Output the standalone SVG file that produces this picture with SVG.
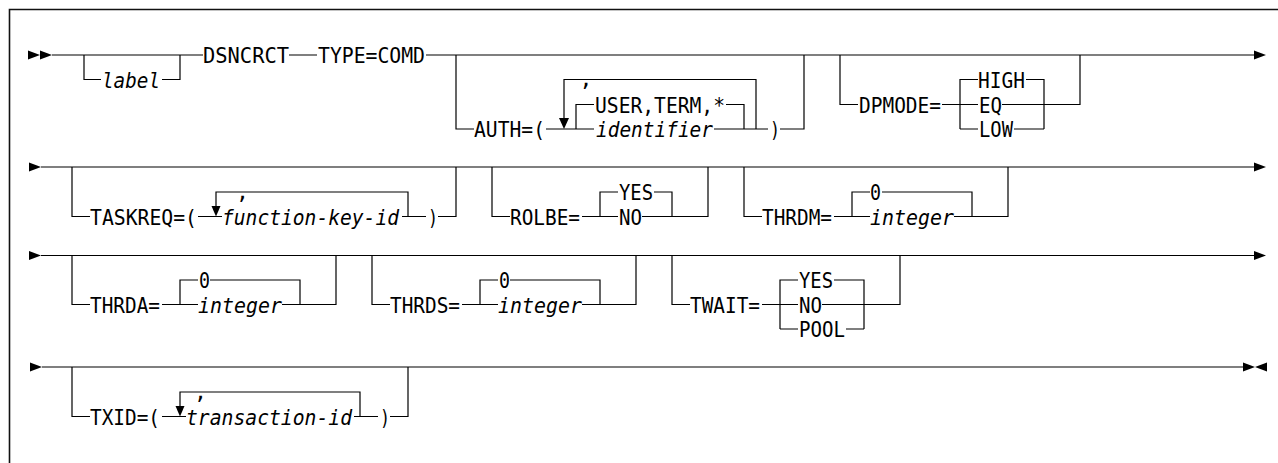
<svg xmlns="http://www.w3.org/2000/svg" width="1278" height="463" viewBox="0 0 1278 463">
<style>
.t{font-family:"DejaVu Sans Mono","Liberation Mono",monospace;font-size:21.5px;fill:#000}
.i{font-style:italic}
.c{fill:none;stroke:#000;stroke-width:1.2}
.a{fill:#000;stroke:none}
.f{fill:none;stroke:#111;stroke-width:1.6}
</style>
<rect width="1278" height="463" fill="#fff"/>
<path class="f" d="M9.5 463 V9.5 H1278"/>

<g id="connectors">
  <!-- row 1 -->
  <polygon class="a" points="28,50.5 40,55 28,59.5"/>
  <polygon class="a" points="40,50.5 52,55 40,59.5"/>
  <path class="c" d="M52 55 H203 M289 55 H317 M426 55 H1255"/>
  <path class="c" d="M84 55 V79.5 H101 M162 79.5 H180 V55"/>
  <path class="c" d="M456 55 V129 H474 M546 129 H594 M714 129 H768 M780 129 H804 V55"/>
  <path class="c" d="M564 124 V79.5 H756 V129"/>
  <polygon class="a" points="559,118 569,118 564,129"/>
  <path class="c" d="M576 129 V104.5 H594 M726 104.5 H744 V129"/>
  <path class="c" d="M840 55 V104.5 H858 M942 104.5 H978 M1002 104.5 H1080 V55"/>
  <path class="c" d="M960 129 V79.5 H978 M1026 79.5 H1044 V129 M960 129 H978 M1014 129 H1044"/>
  <polygon class="a" points="1254,50.5 1266,55 1254,59.5"/>

  <!-- row 2 -->
  <polygon class="a" points="29,162.5 41,167 29,171.5"/>
  <path class="c" d="M41 167 H1255"/>
  <polygon class="a" points="1254,162.5 1266,167 1254,171.5"/>
  <path class="c" d="M72 167 V216.5 H90 M198 216.5 H222 M402 216.5 H426 M438 216.5 H456 V167"/>
  <path class="c" d="M216 211 V192 H408 V216.5"/>
  <polygon class="a" points="211.5,206 220.5,206 216,216.5"/>
  <path class="c" d="M492 167 V216.5 H510 M582 216.5 H618 M642 216.5 H708 V167"/>
  <path class="c" d="M600 216.5 V192 H618 M654 192 H672 V216.5"/>
  <path class="c" d="M744 167 V216.5 H762 M834 216.5 H870 M954 216.5 H1008 V167"/>
  <path class="c" d="M852 216.5 V192 H870 M882 192 H972 V216.5"/>

  <!-- row 3 -->
  <polygon class="a" points="29,251 41,255.5 29,260"/>
  <path class="c" d="M41 255.5 H1255"/>
  <polygon class="a" points="1254,251 1266,255.5 1254,260"/>
  <path class="c" d="M72 255.5 V304.5 H90 M162 304.5 H198 M282 304.5 H336 V255.5"/>
  <path class="c" d="M180 304.5 V280 H198 M210 280 H300 V304.5"/>
  <path class="c" d="M372 255.5 V304.5 H390 M462 304.5 H498 M582 304.5 H636 V255.5"/>
  <path class="c" d="M480 304.5 V280 H498 M510 280 H600 V304.5"/>
  <path class="c" d="M672 255.5 V304.5 H690 M762 304.5 H798 M822 304.5 H900 V255.5"/>
  <path class="c" d="M780 329 V280 H798 M834 280 H864 V329 M780 329 H798 M846 329 H864"/>

  <!-- row 4 -->
  <polygon class="a" points="30,362.5 42,367 30,371.5"/>
  <path class="c" d="M42 367 H1244"/>
  <polygon class="a" points="1243,362.5 1255,367 1243,371.5"/>
  <polygon class="a" points="1267,362.5 1255,367 1267,371.5"/>
  <path class="c" d="M72 367 V416.5 H90 M162 416.5 H186 M354 416.5 H378 M390 416.5 H408 V367"/>
  <path class="c" d="M180 411 V392 H360 V416.5"/>
  <polygon class="a" points="175.5,406 184.5,406 180,416.5"/>
</g>

<g id="n-label"><text class="t i" x="102" y="87.5" textLength="58" lengthAdjust="spacingAndGlyphs">label</text></g>
<g id="n-dsncrct"><text class="t" x="203" y="63" textLength="86" lengthAdjust="spacingAndGlyphs">DSNCRCT</text></g>
<g id="n-type"><text class="t" x="318" y="63" textLength="107" lengthAdjust="spacingAndGlyphs">TYPE=COMD</text></g>
<g id="n-auth">
  <text class="t" x="586" y="86" text-anchor="middle">,</text>
  <text class="t" x="474" y="137" textLength="71" lengthAdjust="spacingAndGlyphs">AUTH=(</text>
  <text class="t" x="595" y="112.5" textLength="130" lengthAdjust="spacingAndGlyphs">USER,TERM,*</text>
  <text class="t i" x="596" y="137" textLength="117" lengthAdjust="spacingAndGlyphs">identifier</text>
  <text class="t" x="770" y="137" textLength="10" lengthAdjust="spacingAndGlyphs">)</text>
</g>
<g id="n-dpmode">
  <text class="t" x="859" y="112.5" textLength="82" lengthAdjust="spacingAndGlyphs">DPMODE=</text>
  <text class="t" x="978" y="87.5" textLength="47" lengthAdjust="spacingAndGlyphs">HIGH</text>
  <text class="t" x="979" y="112.5" textLength="23" lengthAdjust="spacingAndGlyphs">EQ</text>
  <text class="t" x="979" y="137" textLength="34" lengthAdjust="spacingAndGlyphs">LOW</text>
</g>
<g id="n-taskreq">
  <text class="t" x="90" y="224.5" textLength="107" lengthAdjust="spacingAndGlyphs">TASKREQ=(</text>
  <text class="t" x="242.5" y="198.5" text-anchor="middle">,</text>
  <text class="t i" x="222" y="224.5" textLength="177" lengthAdjust="spacingAndGlyphs">function-key-id</text>
  <text class="t" x="428" y="224.5" textLength="10" lengthAdjust="spacingAndGlyphs">)</text>
</g>
<g id="n-rolbe">
  <text class="t" x="510" y="224.5" textLength="70" lengthAdjust="spacingAndGlyphs">ROLBE=</text>
  <text class="t" x="619" y="200" textLength="34" lengthAdjust="spacingAndGlyphs">YES</text>
  <text class="t" x="619" y="224.5" textLength="23" lengthAdjust="spacingAndGlyphs">NO</text>
</g>
<g id="n-thrdm">
  <text class="t" x="762" y="224.5" textLength="70" lengthAdjust="spacingAndGlyphs">THRDM=</text>
  <text class="t" x="870" y="200" textLength="11" lengthAdjust="spacingAndGlyphs">0</text>
  <text class="t i" x="870" y="224.5" textLength="84" lengthAdjust="spacingAndGlyphs">integer</text>
</g>
<g id="n-thrda">
  <text class="t" x="90" y="312.5" textLength="70" lengthAdjust="spacingAndGlyphs">THRDA=</text>
  <text class="t" x="199" y="288" textLength="11" lengthAdjust="spacingAndGlyphs">0</text>
  <text class="t i" x="198" y="312.5" textLength="84" lengthAdjust="spacingAndGlyphs">integer</text>
</g>
<g id="n-thrds">
  <text class="t" x="390" y="312.5" textLength="70" lengthAdjust="spacingAndGlyphs">THRDS=</text>
  <text class="t" x="499" y="288" textLength="11" lengthAdjust="spacingAndGlyphs">0</text>
  <text class="t i" x="498" y="312.5" textLength="84" lengthAdjust="spacingAndGlyphs">integer</text>
</g>
<g id="n-twait">
  <text class="t" x="690" y="312.5" textLength="70" lengthAdjust="spacingAndGlyphs">TWAIT=</text>
  <text class="t" x="799" y="288" textLength="34" lengthAdjust="spacingAndGlyphs">YES</text>
  <text class="t" x="799" y="312.5" textLength="23" lengthAdjust="spacingAndGlyphs">NO</text>
  <text class="t" x="799" y="337" textLength="46" lengthAdjust="spacingAndGlyphs">POOL</text>
</g>
<g id="n-txid">
  <text class="t" x="90" y="424.5" textLength="70" lengthAdjust="spacingAndGlyphs">TXID=(</text>
  <text class="t" x="200.5" y="398.5" text-anchor="middle">,</text>
  <text class="t i" x="186" y="424.5" textLength="166" lengthAdjust="spacingAndGlyphs">transaction-id</text>
  <text class="t" x="380" y="424.5" textLength="10" lengthAdjust="spacingAndGlyphs">)</text>
</g>
</svg>
